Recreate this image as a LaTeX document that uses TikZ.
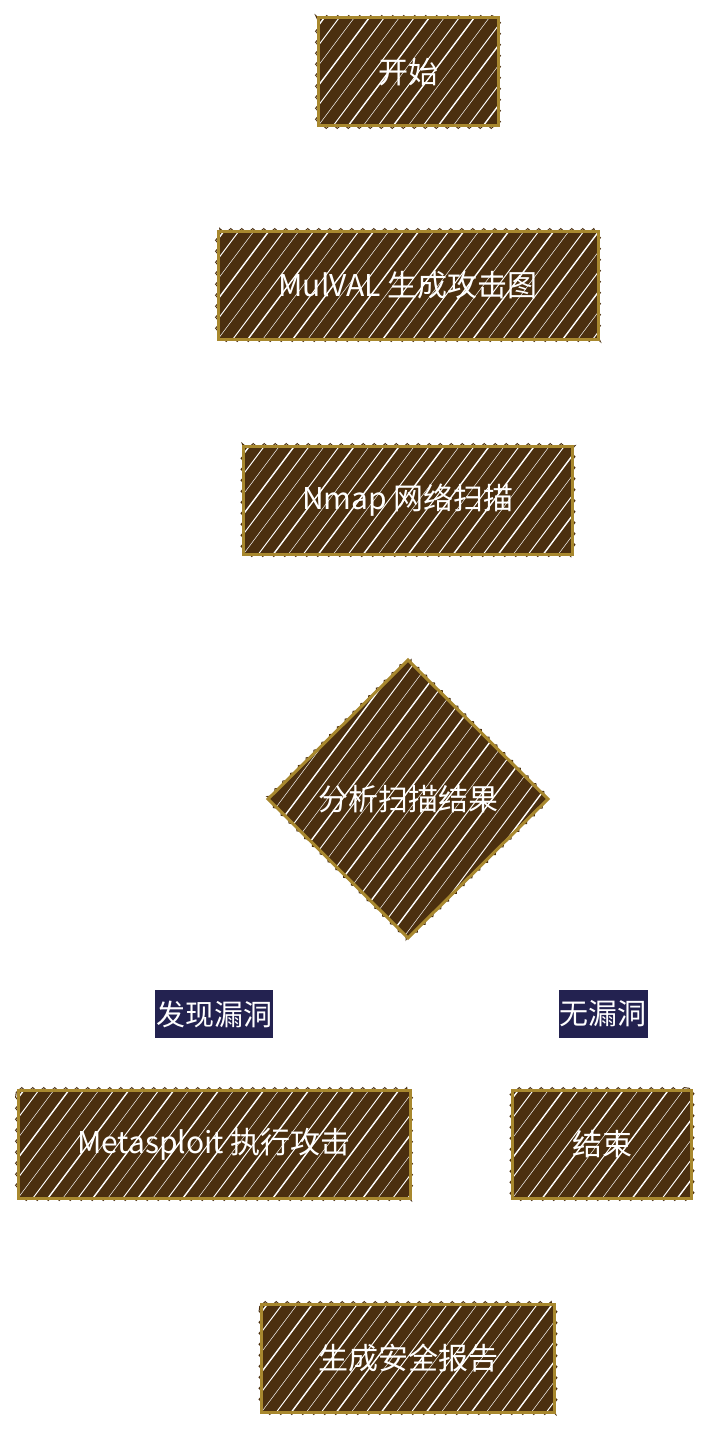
\documentclass[tikz,border=0pt]{standalone}
\usepackage{fontspec}
\newfontfamily\cjk{Noto Sans CJK SC}
\usetikzlibrary{shapes.geometric,decorations.pathmorphing}
\definecolor{boxbrown}{HTML}{4B2F0F}
\definecolor{edgegold}{HTML}{A8882E}
\definecolor{tagnavy}{HTML}{232250}
\tikzset{
  hatch/.style={path picture={
      \foreach \k in {-20,...,32}
        \draw[white,line width={0.5pt+mod(abs(\k),3)*0.45pt}] ([xshift=\k*15pt]path picture bounding box.south west) -- ++(240pt,320pt);}},
  rough/.style={preaction={draw=boxbrown,line width=1pt,decorate,
      decoration={zigzag,segment length=11pt,amplitude=2.4pt}},
    postaction={draw=edgegold,line width=3pt}},
  stepbox/.style={rectangle,fill=boxbrown,text=white,
    minimum height=108pt,inner sep=0pt,font=\cjk\fontsize{30}{32}\selectfont,hatch,rough},
  choice/.style={diamond,fill=boxbrown,text=white,
    minimum width=280pt,minimum height=278pt,inner sep=0pt,font=\cjk\fontsize{30}{32}\selectfont,hatch,rough},
  tag/.style={fill=tagnavy,text=white,inner sep=1pt,minimum height=48pt,font=\cjk\fontsize{29}{31}\selectfont}
}
\begin{document}
\begin{tikzpicture}[x=1pt,y=-1pt]
  \useasboundingbox (0,0) rectangle (710,1434);
  \node[stepbox,minimum width=180pt] (start) at (408,72) {开始};
  \node[stepbox,minimum width=380pt] (mulval) at (408,285) {MulVAL 生成攻击图};
  \node[stepbox,minimum width=329pt] (nmap) at (408,500) {Nmap 网络扫描};
  \node[choice] (check) at (408,799) {分析扫描结果};
  \node[tag] (found) at (214,1014) {发现漏洞};
  \node[tag] (none) at (603,1014) {无漏洞};
  \node[stepbox,minimum width=392pt] (exploit) at (214,1144) {Metasploit 执行攻击};
  \node[stepbox,minimum width=179pt] (finish) at (602,1144) {结束};
  \node[stepbox,minimum width=293pt] (report) at (408,1358) {生成安全报告};
\end{tikzpicture}
\end{document}
